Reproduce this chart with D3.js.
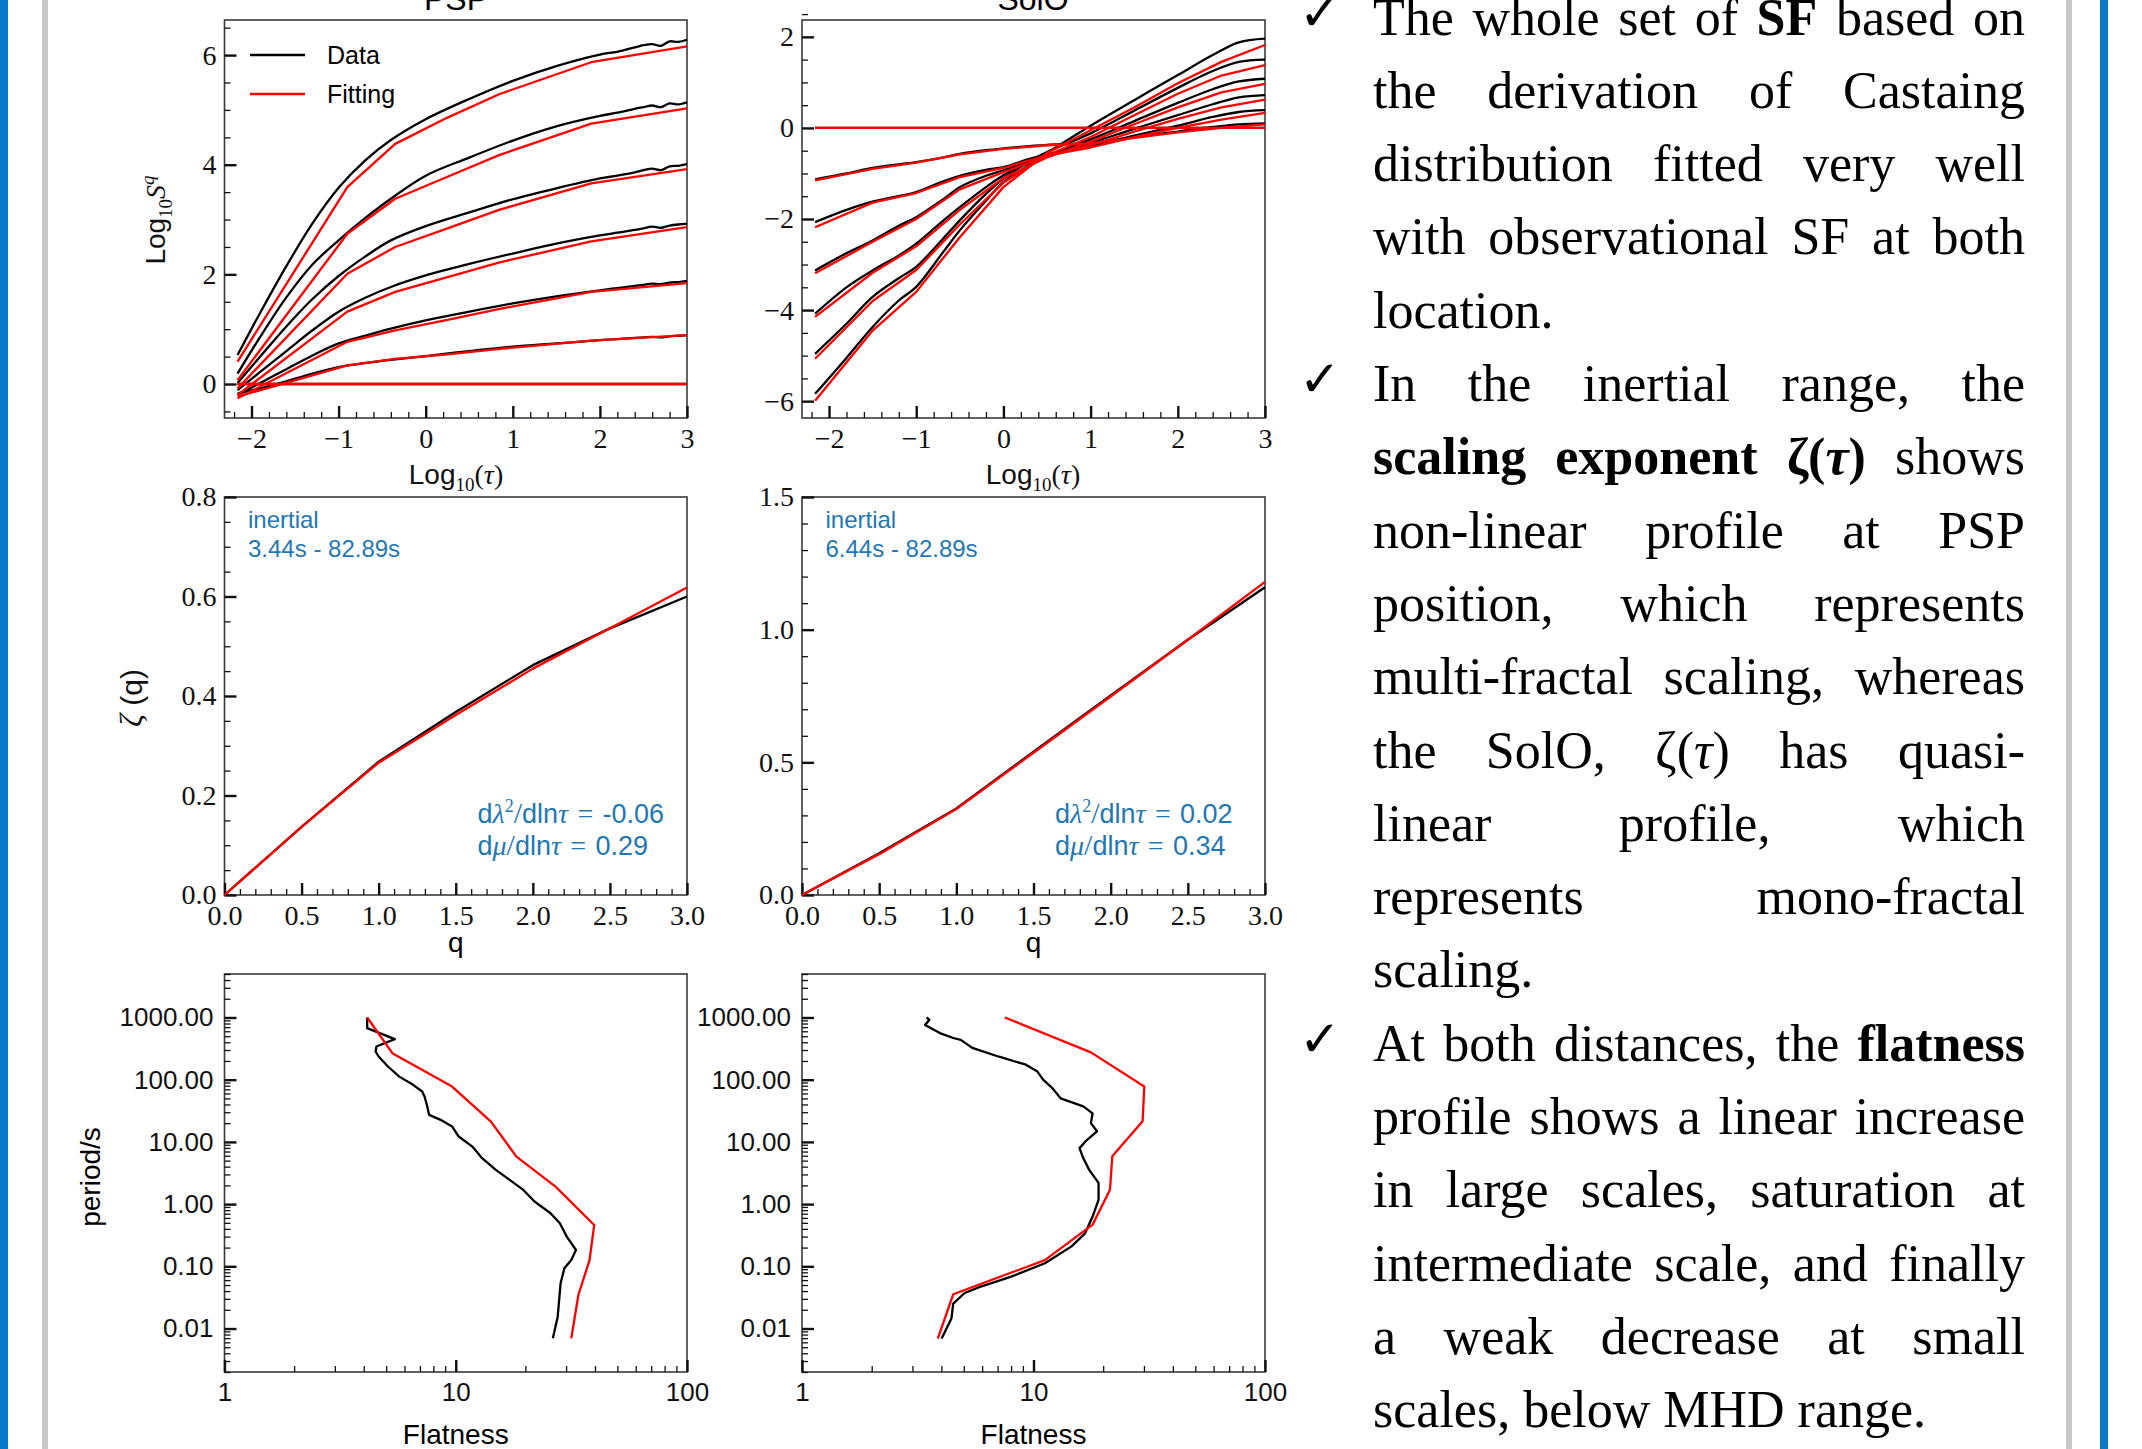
<!DOCTYPE html>
<html>
<head>
<meta charset="utf-8">
<script src="https://cdn.jsdelivr.net/npm/d3@7"></script>
<style>
  body { margin: 0; background: #fff; }
</style>
</head>
<body>
<svg id="fig" width="2142" height="1449"></svg>
<script>
// structure functions, scaling exponents and flatness, PSP vs SolO
var SERIF = "'Liberation Serif', 'DejaVu Serif', serif";
var SANS = "'Liberation Sans', 'DejaVu Sans', sans-serif";
var RED = "#ff0000", BLACK = "#000000", BLUE = "#1f77b4";

// ---- data ----
var qOrders = [0, 0.5, 1, 1.5, 2, 2.5, 3];

// PSP structure functions (log10 tau, log10 S^q), one row per q
var pspLogTau = [-2.16, -1.9, -1.6, -1.3, -1.0, -0.7, -0.4, 0, 0.5, 1.0, 1.5, 2.0, 2.2, 2.4, 2.5, 2.6, 2.7, 2.8, 2.9, 3.0];
var pspSfData = [
  [0, 0, 0, 0, 0, 0, 0, 0, 0, 0, 0, 0, 0, 0, 0, 0, 0, 0, 0, 0],
  [-0.17, -0.08, 0.05, 0.19, 0.31, 0.38, 0.44, 0.51, 0.60, 0.68, 0.74, 0.80, 0.82, 0.84, 0.85, 0.86, 0.85, 0.87, 0.88, 0.89],
  [-0.20, 0.02, 0.27, 0.52, 0.74, 0.88, 1.01, 1.16, 1.32, 1.47, 1.60, 1.71, 1.75, 1.79, 1.81, 1.83, 1.82, 1.85, 1.86, 1.88],
  [-0.11, 0.22, 0.60, 0.98, 1.32, 1.57, 1.77, 1.98, 2.19, 2.38, 2.56, 2.71, 2.76, 2.81, 2.84, 2.87, 2.85, 2.89, 2.91, 2.92],
  [0.02, 0.50, 1.05, 1.55, 1.97, 2.32, 2.62, 2.88, 3.13, 3.37, 3.57, 3.75, 3.80, 3.86, 3.90, 3.93, 3.90, 3.97, 3.98, 4.01],
  [0.19, 0.86, 1.58, 2.18, 2.62, 3.02, 3.38, 3.80, 4.13, 4.44, 4.70, 4.89, 4.95, 5.02, 5.05, 5.08, 5.05, 5.12, 5.10, 5.14],
  [0.53, 1.30, 2.15, 2.93, 3.58, 4.07, 4.45, 4.83, 5.20, 5.53, 5.80, 6.01, 6.06, 6.14, 6.18, 6.20, 6.17, 6.25, 6.24, 6.28]
];
var pspLogTauFit = [-2.16, -0.9, -0.35, 0.25, 0.85, 1.9, 3.0];
var pspSfFit = [
  [0, 0, 0, 0, 0, 0, 0],
  [-0.23, 0.34, 0.46, 0.54, 0.64, 0.79, 0.89],
  [-0.26, 0.77, 0.98, 1.17, 1.37, 1.68, 1.84],
  [-0.20, 1.32, 1.68, 1.95, 2.22, 2.60, 2.86],
  [-0.08, 2.01, 2.50, 2.84, 3.18, 3.66, 3.92],
  [0.07, 2.74, 3.38, 3.78, 4.18, 4.75, 5.03],
  [0.41, 3.59, 4.38, 4.86, 5.29, 5.87, 6.16]
];

// SolO structure functions
var soloLogTau = [-2.16, -1.8, -1.5, -1.2, -1.0, -0.7, -0.5, -0.2, 0, 0.3, 0.5, 1.0, 1.5, 2.0, 2.4, 2.7, 3.0];
var soloSfData = [
  [0, 0, 0, 0, 0, 0, 0, 0, 0, 0, 0, 0, 0, 0, 0, 0, 0],
  [-1.13, -1.00, -0.88, -0.80, -0.75, -0.65, -0.57, -0.49, -0.45, -0.40, -0.37, -0.33, -0.20, -0.08, 0.02, 0.08, 0.10],
  [-2.07, -1.80, -1.62, -1.50, -1.41, -1.18, -1.05, -0.92, -0.86, -0.68, -0.58, -0.40, -0.17, 0.05, 0.24, 0.35, 0.39],
  [-3.13, -2.75, -2.47, -2.15, -1.96, -1.58, -1.30, -1.05, -0.93, -0.72, -0.60, -0.33, -0.02, 0.28, 0.52, 0.67, 0.72],
  [-4.08, -3.50, -3.13, -2.80, -2.54, -2.05, -1.74, -1.30, -1.04, -0.75, -0.60, -0.25, 0.15, 0.55, 0.85, 1.02, 1.08],
  [-4.96, -4.30, -3.71, -3.30, -3.05, -2.45, -2.03, -1.45, -1.11, -0.73, -0.53, -0.12, 0.38, 0.88, 1.25, 1.45, 1.50],
  [-5.84, -5.05, -4.37, -3.79, -3.49, -2.75, -2.25, -1.60, -1.19, -0.80, -0.55, 0.05, 0.61, 1.16, 1.60, 1.88, 1.96]
];
var soloLogTauFit = [-2.16, -1.5, -1.0, -0.5, 0, 0.5, 1.0, 1.5, 2.0, 2.5, 3.0];
var soloSfFit = [
  [0, 0, 0, 0, 0, 0, 0, 0, 0, 0, 0],
  [-1.15, -0.90, -0.76, -0.58, -0.46, -0.38, -0.34, -0.22, -0.10, 0.00, 0.08],
  [-2.18, -1.64, -1.43, -1.08, -0.88, -0.60, -0.43, -0.20, 0.00, 0.18, 0.33],
  [-3.19, -2.50, -2.00, -1.35, -0.97, -0.63, -0.38, -0.08, 0.20, 0.45, 0.62],
  [-4.15, -3.18, -2.60, -1.80, -1.10, -0.65, -0.30, 0.08, 0.45, 0.78, 0.97],
  [-5.07, -3.80, -3.12, -2.12, -1.20, -0.60, -0.20, 0.28, 0.75, 1.15, 1.38],
  [-5.99, -4.45, -3.60, -2.40, -1.30, -0.55, -0.05, 0.45, 0.98, 1.45, 1.82]
];

// scaling exponents zeta(q)
var zetaQ = [0, 0.5, 1, 1.5, 2, 2.5, 3];
var pspZetaData = [0, 0.137, 0.268, 0.368, 0.462, 0.536, 0.600];
var pspZetaFit = [0, 0.137, 0.266, 0.362, 0.455, 0.536, 0.618];
var soloZetaData = [0, 0.157, 0.326, 0.540, 0.752, 0.962, 1.160];
var soloZetaFit = [0, 0.154, 0.324, 0.536, 0.748, 0.962, 1.180];

// flatness vs period (s)
var pspFlatPeriod = [1000, 673, 448, 342, 284, 236, 196, 163, 112, 82.6, 64.6, 53.6, 39.4, 27.2, 22.6, 17.7, 12.2, 8.41, 5.46, 3.55, 2.45, 1.69, 1.10, 0.713, 0.492, 0.300, 0.183, 0.126, 0.0929, 0.0533, 0.0155, 0.00695];
var pspFlatData = [4.14, 4.14, 5.45, 4.54, 4.50, 4.64, 4.86, 5.09, 5.70, 6.54, 7.16, 7.33, 7.50, 7.67, 8.60, 9.64, 10.3, 11.8, 13.0, 14.9, 17.1, 19.6, 21.9, 25.7, 28.2, 30.2, 33.1, 31.6, 29.5, 28.4, 27.6, 26.3];
var pspFitPeriod = [1000, 267, 77.6, 21.2, 5.81, 1.91, 0.462, 0.126, 0.0346, 0.00695];
var pspFlatFit = [4.14, 5.32, 9.64, 14.2, 18.3, 27.0, 39.7, 37.9, 33.9, 31.6];

var soloFlatPeriod = [1000, 920, 760, 562, 468, 437, 324, 234, 174, 135, 100, 72.4, 50.1, 37.2, 28.8, 20.0, 14.8, 10.7, 7.94, 5.50, 3.55, 2.19, 1.17, 0.631, 0.339, 0.209, 0.112, 0.0676, 0.0468, 0.0372, 0.0251, 0.0145, 0.0069];
var soloFlatData = [3.45, 3.55, 3.40, 3.94, 4.5, 4.85, 5.44, 7.1, 9.27, 10.4, 11.0, 12.1, 13.1, 16.4, 18.0, 17.7, 18.8, 17.0, 15.8, 16.4, 17.4, 19.1, 19.1, 18.0, 16.7, 14.6, 11.2, 7.96, 5.87, 5.04, 4.5, 4.42, 4.01];
var soloFitPeriod = [1000, 275, 77.6, 21.4, 5.89, 1.70, 0.468, 0.126, 0.0355, 0.0069];
var soloFlatFit = [7.52, 17.7, 30.1, 29.6, 21.9, 21.4, 18.0, 11.2, 4.5, 3.86];

// tick labels
var sfTauTicks = [-2, -1, 0, 1, 2, 3];
var pspSfTicks = [0, 2, 4, 6];
var soloSfTicks = [-6, -4, -2, 0, 2];
var qTicks = [0, 0.5, 1, 1.5, 2, 2.5, 3];
var pspZetaTicks = [0, 0.2, 0.4, 0.6, 0.8];
var soloZetaTicks = [0, 0.5, 1.0, 1.5];
var periodTicks = [0.01, 0.1, 1, 10, 100, 1000];
var flatTicks = [1, 10, 100];

// ---- layout ----
var svg = d3.select("#fig");
var P = {
  a: {x0: 224.5, x1: 687, y0: 20, y1: 418},
  b: {x0: 802, x1: 1265, y0: 20, y1: 418},
  c: {x0: 224.5, x1: 687, y0: 497, y1: 895},
  d: {x0: 802, x1: 1265, y0: 497, y1: 895},
  e: {x0: 224.5, x1: 687, y0: 974, y1: 1372},
  f: {x0: 802, x1: 1265, y0: 974, y1: 1372}
};

// side decoration bars
svg.append("rect").attr("x", 0).attr("y", 0).attr("width", 8).attr("height", 1449).attr("fill", "#0a78c8");
svg.append("rect").attr("x", 42).attr("y", 0).attr("width", 6).attr("height", 1449).attr("fill", "#c8c8c8");
svg.append("rect").attr("x", 2066).attr("y", 0).attr("width", 6).attr("height", 1449).attr("fill", "#c8c8c8");
svg.append("rect").attr("x", 2100).attr("y", 0).attr("width", 8).attr("height", 1449).attr("fill", "#0a78c8");

function range(a, b, s) { return d3.range(a, b + s / 2, s).map(function(v) { return +v.toFixed(4); }); }
function minus(all, major) { return all.filter(function(v) { return !major.some(function(m) { return Math.abs(m - v) < 1e-6; }); }); }
function logMinor(lo, hi) {
  var out = [];
  for (var e = -4; e <= 4; e++) {
    for (var m = 2; m <= 9; m++) {
      var v = m * Math.pow(10, e);
      if (v >= lo * 0.999 && v <= hi * 1.001) out.push(v);
    }
  }
  return out;
}

function addAxis(p, bottom, scale, vals, size, fmt, font, fs, pad, width) {
  var g = svg.append("g").attr("transform", bottom ? "translate(0," + p.y1 + ")" : "translate(" + p.x0 + ",0)");
  var ax = (bottom ? d3.axisBottom(scale) : d3.axisLeft(scale))
    .tickValues(vals).tickSize(-size).tickPadding(pad)
    .tickFormat(fmt || function() { return ""; });
  g.call(ax);
  g.select(".domain").remove();
  g.selectAll(".tick line").attr("stroke", "#111").attr("stroke-width", width);
  g.selectAll(".tick text").attr("font-family", font).attr("font-size", fs).attr("fill", "#111");
  return g;
}

function frame(p) {
  svg.append("rect").attr("x", p.x0).attr("y", p.y0)
    .attr("width", p.x1 - p.x0).attr("height", p.y1 - p.y0)
    .attr("fill", "none").attr("stroke", "#3a3a3a").attr("stroke-width", 1.6);
}

function drawXY(xs, ys, x, y, color, curve) {
  var pts = xs.map(function(v, i) { return [v, ys[i]]; });
  svg.append("path").datum(pts)
    .attr("fill", "none").attr("stroke", color).attr("stroke-width", 2.3)
    .attr("stroke-linejoin", "round")
    .attr("d", d3.line().x(function(d) { return x(d[0]); }).y(function(d) { return y(d[1]); }).curve(curve || d3.curveLinear));
}

// ---------- SF panels ----------
function sfPanel(p, tau, data, tauFit, fit, yDom, yTicks, yMinorStep) {
  var x = d3.scaleLinear().domain([-2.31, 3.0]).range([p.x0, p.x1]);
  var y = d3.scaleLinear().domain(yDom).range([p.y1, p.y0]);
  frame(p);
  addAxis(p, true, x, minus(range(-2.2, 3, 0.2), sfTauTicks), 6, null, SERIF, 28, 10, 1.3);
  addAxis(p, true, x, sfTauTicks, 12, d3.format("d"), SERIF, 28, 10, 2.4);
  addAxis(p, false, y, minus(range(Math.ceil(yDom[0] / yMinorStep) * yMinorStep, yDom[1], yMinorStep), yTicks), 6, null, SERIF, 28, 8, 1.3);
  addAxis(p, false, y, yTicks, 12, d3.format("d"), SERIF, 28, 8, 2.4);
  qOrders.forEach(function(q, i) {
    drawXY(tau, data[i], x, y, BLACK, d3.curveCatmullRom);
  });
  qOrders.forEach(function(q, i) {
    drawXY(tauFit, fit[i], x, y, RED);
  });
  return {x: x, y: y};
}
sfPanel(P.a, pspLogTau, pspSfData, pspLogTauFit, pspSfFit, [-0.62, 6.64], pspSfTicks, 0.5);
sfPanel(P.b, soloLogTau, soloSfData, soloLogTauFit, soloSfFit, [-6.37, 2.37], soloSfTicks, 0.5);

// titles (cut by the top edge, as in the source figure)
svg.append("text").attr("x", 456).attr("y", 10).attr("text-anchor", "middle")
  .attr("font-family", SANS).attr("font-size", 32).text("PSP");
svg.append("text").attr("x", 1033).attr("y", 10).attr("text-anchor", "middle")
  .attr("font-family", SANS).attr("font-size", 32).text("SolO");

// legend
svg.append("line").attr("x1", 250).attr("x2", 305).attr("y1", 55).attr("y2", 55).attr("stroke", BLACK).attr("stroke-width", 2.3);
svg.append("line").attr("x1", 250).attr("x2", 305).attr("y1", 94).attr("y2", 94).attr("stroke", RED).attr("stroke-width", 2.3);
svg.append("text").attr("x", 327).attr("y", 64).attr("font-family", SANS).attr("font-size", 25).text("Data");
svg.append("text").attr("x", 327).attr("y", 103).attr("font-family", SANS).attr("font-size", 25).text("Fitting");

// rich text helper: parts = [text, family, size, style, dy]
function rich(g, x, y, parts, anchor, fill) {
  var t = g.append("text").attr("x", x).attr("y", y).attr("text-anchor", anchor || "start").attr("fill", fill || "#111");
  parts.forEach(function(pt) {
    t.append("tspan").attr("font-family", pt[1]).attr("font-size", pt[2])
      .attr("font-style", pt[3] || "normal").attr("dy", pt[4] || 0).text(pt[0]);
  });
  return t;
}

var tauLabel = [["Log", SANS, 28], ["10", SERIF, 19, null, 7], ["(", SERIF, 28, null, -7], ["\u03c4", SERIF, 28, "italic"], [")", SERIF, 28]];
rich(svg, 456, 484, tauLabel, "middle");
rich(svg, 1033, 484, tauLabel, "middle");
rich(svg.append("g").attr("transform", "translate(165,220) rotate(-90)"), 0, 0,
  [["Log", SANS, 28], ["10", SERIF, 19, null, 7], ["S", SERIF, 28, "italic", -7], ["q", SERIF, 19, "italic", -11]], "middle");

// ---------- zeta panels ----------
function zetaPanel(p, yMax, yTicks, yMinor, data, fit, range1, lam, mu) {
  var x = d3.scaleLinear().domain([0, 3]).range([p.x0, p.x1]);
  var y = d3.scaleLinear().domain([0, yMax]).range([p.y1, p.y0]);
  frame(p);
  addAxis(p, true, x, minus(range(0, 3, 0.1), qTicks), 6, null, SERIF, 28, 10, 1.3);
  addAxis(p, true, x, qTicks, 12, d3.format(".1f"), SERIF, 28, 10, 2.4);
  addAxis(p, false, y, minus(range(0, yMax, yMinor), yTicks), 6, null, SERIF, 28, 8, 1.3);
  addAxis(p, false, y, yTicks, 12, d3.format(".1f"), SERIF, 28, 8, 2.4);
  drawXY(zetaQ, data, x, y, BLACK);
  drawXY(zetaQ, fit, x, y, RED);
  var ax = p.x0 + 23.5;
  svg.append("text").attr("x", ax).attr("y", 528).attr("font-family", SANS).attr("font-size", 24).attr("fill", BLUE).text("inertial");
  svg.append("text").attr("x", ax).attr("y", 557).attr("font-family", SANS).attr("font-size", 24).attr("fill", BLUE).text(range1);
  var bx = p.x0 + 253;
  var eq = "\u2004=\u2004";
  rich(svg, bx, 823, [["d", SANS, 27], ["\u03bb", SERIF, 28, "italic"], ["2", SERIF, 18, null, -11],
    ["/", SERIF, 30, null, 11], ["dln", SANS, 27], ["\u03c4", SERIF, 28, "italic"], [eq, SERIF, 28], [lam, SANS, 27]], "start", BLUE);
  rich(svg, bx, 855, [["d", SANS, 27], ["\u03bc", SERIF, 28, "italic"], ["/", SERIF, 30], ["dln", SANS, 27],
    ["\u03c4", SERIF, 28, "italic"], [eq, SERIF, 28], [mu, SANS, 27]], "start", BLUE);
  svg.append("text").attr("x", (p.x0 + p.x1) / 2).attr("y", 952).attr("text-anchor", "middle")
    .attr("font-family", SANS).attr("font-size", 28).text("q");
}
zetaPanel(P.c, 0.8, pspZetaTicks, 0.05, pspZetaData, pspZetaFit, "3.44s - 82.89s", "-0.06", "0.29");
zetaPanel(P.d, 1.5, soloZetaTicks, 0.1, soloZetaData, soloZetaFit, "6.44s - 82.89s", "0.02", "0.34");
rich(svg.append("g").attr("transform", "translate(142,698) rotate(-90)"), 0, 0,
  [["\u03b6", SERIF, 32, "italic"], [" (q)", SANS, 30]], "middle");

// ---------- flatness panels ----------
function flatPanel(p, per, dat, perFit, fit) {
  var x = d3.scaleLog().domain([1, 100]).range([p.x0, p.x1]);
  var y = d3.scaleLog().domain([0.002, 5000]).range([p.y1, p.y0]);
  frame(p);
  addAxis(p, true, x, logMinor(1, 100), 6, null, SANS, 26, 11, 1.3);
  addAxis(p, true, x, flatTicks, 12, d3.format("d"), SANS, 26, 11, 2.4);
  addAxis(p, false, y, logMinor(0.002, 5000), 6, null, SANS, 26, 11, 1.3);
  addAxis(p, false, y, periodTicks, 12, d3.format(".2f"), SANS, 26, 11, 2.4);
  var line = function(fx, py, color) {
    var pts = fx.map(function(v, i) { return [v, py[i]]; });
    svg.append("path").datum(pts).attr("fill", "none").attr("stroke", color).attr("stroke-width", 2.3)
      .attr("stroke-linejoin", "round")
      .attr("d", d3.line().x(function(d) { return x(d[0]); }).y(function(d) { return y(d[1]); }));
  };
  line(dat, per, BLACK);
  line(fit, perFit, RED);
  svg.append("text").attr("x", (p.x0 + p.x1) / 2).attr("y", 1444).attr("text-anchor", "middle")
    .attr("font-family", SANS).attr("font-size", 28).text("Flatness");
}
flatPanel(P.e, pspFlatPeriod, pspFlatData, pspFitPeriod, pspFlatFit);
flatPanel(P.f, soloFlatPeriod, soloFlatData, soloFitPeriod, soloFlatFit);
svg.append("text").attr("transform", "translate(100,1177) rotate(-90)").attr("text-anchor", "middle")
  .attr("font-family", SANS).attr("font-size", 28).text("period/s");

// ---------- text column ----------
var bodyLines = [
  "The whole set of *SF* based on",
  "the derivation of Castaing",
  "distribution fitted very well",
  "with observational SF at both",
  "location.",
  "In the inertial range, the",
  "*scaling exponent \u03b6(_\u03c4_)* shows",
  "non-linear profile at PSP",
  "position, which represents",
  "multi-fractal scaling, whereas",
  "the SolO, \u03b6(_\u03c4_) has quasi-",
  "linear profile, which",
  "represents mono-fractal",
  "scaling.",
  "At both distances, the *flatness*",
  "profile shows a linear increase",
  "in large scales, saturation at",
  "intermediate scale, and finally",
  "a weak decrease at small",
  "scales, below MHD range."
];
var bulletLines = [0, 5, 14];
var lastLines = [4, 13, 19];
var TX0 = 1373, TX1 = 2025, TY0 = 34.5, TDY = 73.3, TFS = 52;

function parseLine(s) {
  var words = [], segs = [], cur = "", b = false, it = false;
  function flush() { if (cur) { segs.push({s: cur, b: b, i: it}); cur = ""; } }
  for (var k = 0; k < s.length; k++) {
    var c = s[k];
    if (c === "*") { flush(); b = !b; }
    else if (c === "_") { flush(); it = !it; }
    else if (c === " ") { flush(); if (segs.length) words.push(segs); segs = []; }
    else cur += c;
  }
  flush(); if (segs.length) words.push(segs);
  return words;
}

var tg = svg.append("g");
bodyLines.forEach(function(line, li) {
  var yb = TY0 + li * TDY;
  var words = parseLine(line);
  var nodes = words.map(function(segs) {
    var t = tg.append("text").attr("y", yb).attr("font-family", SERIF).attr("font-size", TFS).attr("fill", "#000");
    segs.forEach(function(sg) {
      t.append("tspan").attr("font-weight", sg.b ? "bold" : "normal")
        .attr("font-style", sg.i ? "italic" : "normal").text(sg.s);
    });
    return t;
  });
  var widths = nodes.map(function(t) { return t.node().getComputedTextLength(); });
  var total = d3.sum(widths);
  var gap = (lastLines.indexOf(li) >= 0 || nodes.length < 2) ? TFS * 0.25 : (TX1 - TX0 - total) / (nodes.length - 1);
  var xc = TX0;
  nodes.forEach(function(t, k) { t.attr("x", xc); xc += widths[k] + gap; });
  if (bulletLines.indexOf(li) >= 0) {
    tg.append("text").attr("x", 1299).attr("y", yb - 5).attr("font-family", "'DejaVu Sans', sans-serif")
      .attr("font-weight", "bold").attr("font-size", 50).text("\u2713");
  }
});
</script>
</body>
</html>
